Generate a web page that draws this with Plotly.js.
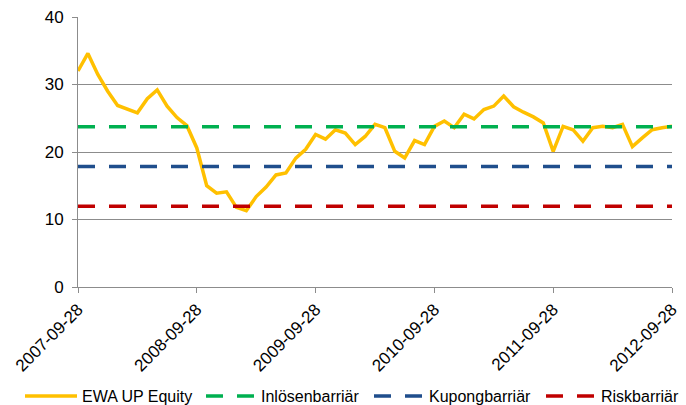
<!DOCTYPE html>
<html>
<head>
<meta charset="utf-8">
<script src="https://cdn.plot.ly/plotly-3.0.1.min.js"></script>
<style>
  html, body { margin: 0; padding: 0; background: #fff; }
  #chart { width: 686px; height: 405px; }
</style>
</head>
<body>
<div id="chart"></div>
<script>
// Monthly closes, 2007-09-28 .. 2012-09-28
let equity = [
	32.0, 34.6, 31.5, 29.0, 26.9, 26.4, 25.8, 27.9, 29.2, 26.8,
	25.1, 23.9, 20.6, 15.0, 13.9, 14.1, 11.8, 11.3, 13.4, 14.8,
	16.6, 16.9, 19.1, 20.4, 22.6, 21.9, 23.3, 22.8, 21.1, 22.3,
	24.1, 23.6, 20.1, 19.1, 21.7, 21.1, 23.8, 24.6, 23.6, 25.6,
	24.9, 26.3, 26.8, 28.3, 26.7, 25.9, 25.2, 24.3, 20.1, 23.8,
	23.3, 21.6, 23.6, 23.8, 23.6, 24.1, 20.8, 22.1, 23.3, 23.6,
	23.8
]
let inlosen = 23.75
let kupong = 17.85
let risk = 11.95

let seriesNames = ["EWA UP Equity", "Inlösenbarriär", "Kupongbarriär", "Riskbarriär"]
let yTicks = [0, 10, 20, 30, 40]
let tickDates = ["2007-09-28", "2008-09-28", "2009-09-28", "2010-09-28", "2011-09-28", "2012-09-28"]

//Build the category labels, one per month.
let dates = []
for (let i = 0; i < equity.length; i++) {
	let d = new Date(Date.UTC(2007, 8 + i, 28))
	dates.push(d.toISOString().slice(0, 10))
}

function flat(level) {
	return dates.map(() => level)
}

let dashStyle = "17px,14px"

let data = [
	{
		x: dates, y: equity, type: "scatter", mode: "lines",
		name: seriesNames[0], legend: "legend",
		line: {color: "#FFC000", width: 3.5}
	},
	{
		x: dates, y: flat(inlosen), type: "scatter", mode: "lines",
		name: seriesNames[1], legend: "legend2",
		line: {color: "#00B050", width: 3.5, dash: dashStyle}
	},
	{
		x: dates, y: flat(kupong), type: "scatter", mode: "lines",
		name: seriesNames[2], legend: "legend3",
		line: {color: "#1F4E8C", width: 3.5, dash: dashStyle}
	},
	{
		x: dates, y: flat(risk), type: "scatter", mode: "lines",
		name: seriesNames[3], legend: "legend4",
		line: {color: "#C00000", width: 3.5, dash: dashStyle}
	}
]

//One legend per series so every entry sits where the original has it.
function legendAt(px, itemwidth) {
	return {
		orientation: "h",
		x: px / 686, xanchor: "left", xref: "container",
		y: 9 / 405, yanchor: "middle", yref: "container",
		font: {size: 16},
		itemwidth: itemwidth,
		bgcolor: "rgba(0,0,0,0)"
	}
}

let layout = {
	width: 686,
	height: 405,
	margin: {l: 78, r: 14, t: 17, b: 118},
	paper_bgcolor: "#fff",
	plot_bgcolor: "#fff",
	font: {family: "Liberation Sans, Arial, sans-serif", size: 17, color: "#000"},
	showlegend: true,
	legend: legendAt(20, 52),
	legend2: legendAt(201, 50),
	legend3: legendAt(369, 50),
	legend4: legendAt(541, 50),
	xaxis: {
		type: "category",
		range: [0, dates.length - 1],
		tickvals: tickDates,
		ticktext: tickDates,
		tickangle: -45,
		ticks: "outside",
		ticklen: 5,
		tickcolor: "#8c8c8c",
		showline: true,
		linecolor: "#8c8c8c",
		linewidth: 1,
		showgrid: false,
		zeroline: false,
		tickfont: {size: 17}
	},
	yaxis: {
		range: [0, 40],
		tickvals: yTicks,
		ticks: "outside",
		ticklen: 5,
		tickcolor: "#8c8c8c",
		ticklabelstandoff: 5,
		showline: true,
		linecolor: "#8c8c8c",
		linewidth: 1,
		showgrid: true,
		gridcolor: "#8c8c8c",
		gridwidth: 1,
		zeroline: false,
		tickfont: {size: 17}
	}
}

Plotly.newPlot("chart", data, layout, {displayModeBar: false, staticPlot: true})
</script>
</body>
</html>
